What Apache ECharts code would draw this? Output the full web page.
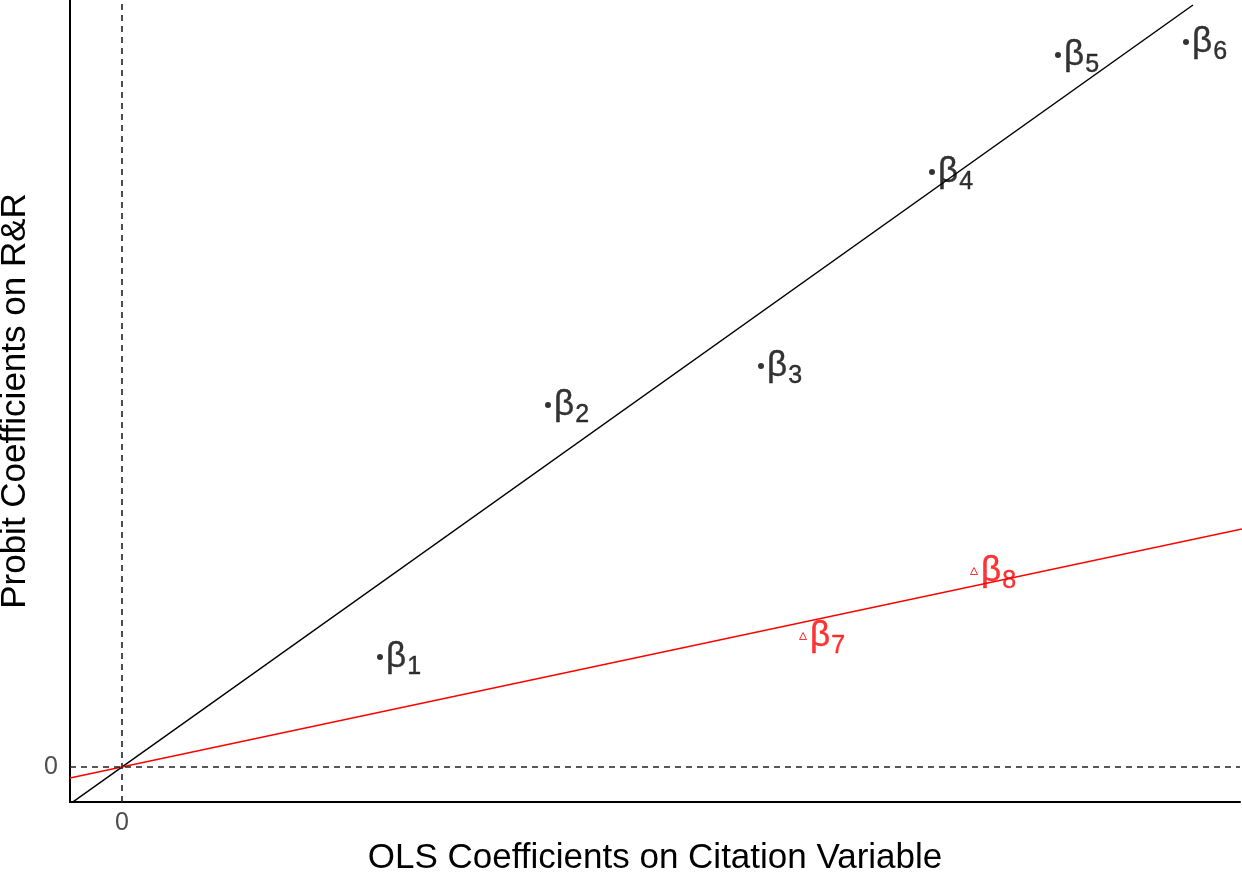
<!DOCTYPE html>
<html>
<head>
<meta charset="utf-8">
<script src="https://cdn.jsdelivr.net/npm/echarts@6/dist/echarts.min.js"></script>
<style>
  html, body { margin: 0; padding: 0; background: #fff; }
  #main { width: 1242px; height: 873px; }
</style>
</head>
<body>
<div id="main"></div>
<script>
// coefficient estimates (arbitrary units)
var olsX = [2.58, 4.26, 6.39, 8.10, 9.36, 10.64];
var probitY = [1.10, 3.62, 4.01, 5.95, 7.12, 7.25];
var blackNames = ['1', '2', '3', '4', '5', '6'];

var redX = [6.81, 8.52];
var redY = [1.31, 1.96];
var redNames = ['7', '8'];

// fitted lines through the origin
var blackLineX = [-0.52, 10.71];
var blackLineY = [-0.37, 7.62];
var redLineX = [-0.52, 11.20];
var redLineY = [-0.11, 2.38];

var font = 'Liberation Sans';

function pts(xs, ys, names) {
  return xs.map(function (x, i) {
    return { value: [x, ys[i]], name: names[i] };
  });
}

function betaLabel(color) {
  return {
    show: true,
    position: 'right',
    distance: 3,
    color: color,
    fontFamily: font,
    formatter: function (p) { return '{b|β}{s|' + p.name + '}'; },
    rich: {
      b: { fontSize: 35, fontFamily: font, color: color, textBorderColor: color, textBorderWidth: 0.4 },
      s: { fontSize: 25, fontFamily: font, color: color, textBorderColor: color, textBorderWidth: 0.4,
           padding: [20, 0, 0, 1] }
    }
  };
}

var myChart = echarts.init(document.getElementById('main'));
myChart.setOption({
  animation: false,
  grid: { left: 70, right: 2, top: 0, bottom: 71, outerBoundsMode: 'none' },
  xAxis: {
    type: 'value',
    min: -0.52,
    max: 11.18,
    name: 'OLS Coefficients on Citation Variable',
    nameLocation: 'middle',
    nameGap: 38,
    nameTextStyle: { fontSize: 35, fontFamily: font, color: '#000' },
    axisLine: { show: true, onZero: false, lineStyle: { color: '#000', width: 2 } },
    axisTick: { show: false },
    splitLine: { show: false },
    axisLabel: { customValues: [0], fontSize: 25, fontFamily: font, color: '#4d4d4d', margin: 9 }
  },
  yAxis: {
    type: 'value',
    min: -0.35,
    max: 7.67,
    name: 'Probit Coefficients on R&R',
    nameLocation: 'middle',
    nameGap: 27,
    nameTextStyle: { fontSize: 35, fontFamily: font, color: '#000' },
    axisLine: { show: true, onZero: false, lineStyle: { color: '#000', width: 2 } },
    axisTick: { show: false },
    splitLine: { show: false },
    axisLabel: { customValues: [0], fontSize: 25, fontFamily: font, color: '#4d4d4d', margin: 12 }
  },
  series: [
    {
      type: 'line',
      data: blackLineX.map(function (x, i) { return [x, blackLineY[i]]; }),
      showSymbol: false,
      lineStyle: { color: '#000', width: 1.5 },
      markLine: {
        silent: true,
        symbol: 'none',
        label: { show: false },
        lineStyle: { color: '#222', type: [6, 5], width: 1.6 },
        data: [{ xAxis: 0 }, { yAxis: 0 }]
      }
    },
    {
      type: 'line',
      data: redLineX.map(function (x, i) { return [x, redLineY[i]]; }),
      showSymbol: false,
      lineStyle: { color: '#ff0000', width: 1.6 }
    },
    {
      type: 'scatter',
      data: pts(olsX, probitY, blackNames),
      symbol: 'circle',
      symbolSize: 6,
      itemStyle: { color: '#000' },
      label: betaLabel('#000')
    },
    {
      type: 'scatter',
      data: pts(redX, redY, redNames),
      symbol: 'triangle',
      symbolSize: 7,
      itemStyle: { color: 'rgba(0,0,0,0)', borderColor: '#ff0000', borderWidth: 1 },
      label: betaLabel('#ff0000')
    }
  ]
});
</script>
</body>
</html>
